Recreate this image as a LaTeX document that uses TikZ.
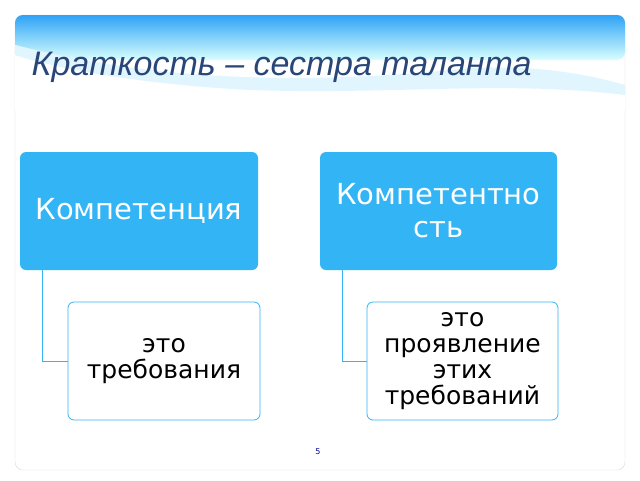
\documentclass[tikz,border=0pt]{standalone}
\usepackage{fontspec}
\setmainfont{DejaVu Sans}
\newfontfamily\titlefont{Liberation Sans}
\definecolor{hb}{RGB}{51,181,245}
\definecolor{tc}{RGB}{40,70,120}
\begin{document}
\begin{tikzpicture}[x=1pt,y=-1pt,
  head/.style={draw=none,fill=hb,rounded corners=6pt,text=white,align=center,font=\fontsize{29}{33}\selectfont},
  sub/.style={draw=hb,fill=white,line width=0.8pt,rounded corners=6pt,align=center,font=\fontsize{25}{26}\selectfont},
  link/.style={draw=hb,line width=0.8pt}]
\useasboundingbox (0,0) rectangle (640,480);
\fill[white] (0,0) rectangle (640,480);
\draw[gray!30,rounded corners=8pt] (15,15) rectangle (625,470);
\shade[top color=hb!90!blue,bottom color=cyan!15,rounded corners=8pt]
  (15,60) -- (15,15) -- (625,15) -- (625,60) -- cycle;
\fill[white] (15,45) .. controls (150,80) and (300,85) .. (450,70) .. controls (530,62) and (590,75) .. (625,85) -- (625,110) -- (15,110) -- cycle;
\fill[cyan!20,opacity=0.6] (15,45) .. controls (150,80) and (300,85) .. (450,70) .. controls (530,62) and (590,75) .. (625,85) -- (625,95) .. controls (500,80) and (400,95) .. (250,90) .. controls (150,85) and (60,70) .. (15,55) -- cycle;
\node[anchor=west,font=\titlefont\itshape\fontsize{34}{38}\selectfont,text=tc] (t) at (28,67) {Краткость – сестра таланта};
\node[head,minimum width=238pt,minimum height=118pt] (a) at (139,211) {Компетенция};
\node[head,minimum width=237pt,minimum height=118pt] (b) at (438.5,211) {Компетентно\\сть};
\node[sub,minimum width=192pt,minimum height=118pt] (c) at (164,361) {это\\требования};
\node[sub,minimum width=191pt,minimum height=118pt] (d) at (462.5,361) {это\\проявление\\этих\\требований};
\draw[link] (a.south west) ++(23,0) |- (c.west);
\draw[link] (b.south west) ++(23,0) |- (d.west);
\node[font=\fontsize{8}{9}\selectfont,text=blue!60!black] (n) at (318,452) {5};
\end{tikzpicture}
\end{document}
